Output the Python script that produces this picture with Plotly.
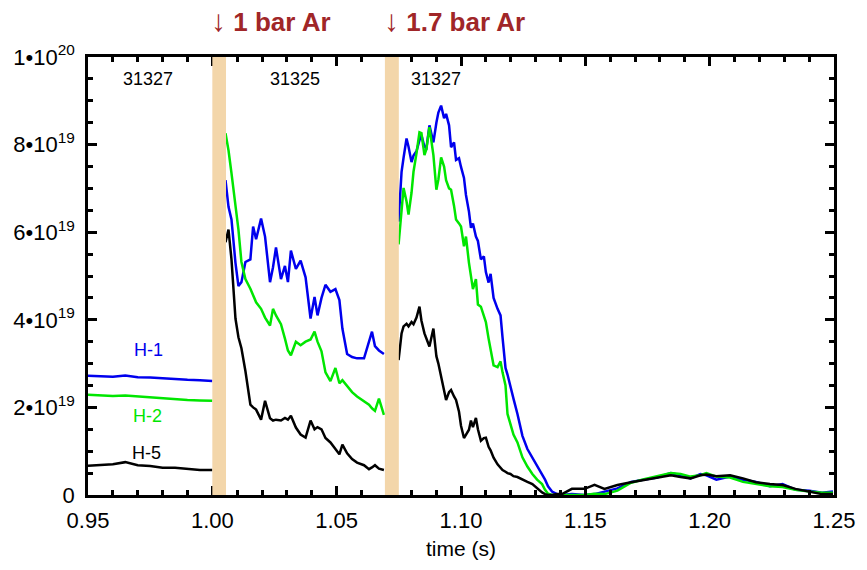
import plotly.graph_objects as go

# ---------------- data (densities in units of 1e19 m^-3) ----------------
t_seg1 = [0.950, 0.955, 0.960, 0.965, 0.970, 0.975, 0.980, 0.985, 0.990, 0.995, 1.000]
h1_seg1 = [2.72, 2.71, 2.70, 2.73, 2.69, 2.68, 2.66, 2.64, 2.63, 2.62, 2.60]
h2_seg1 = [2.29, 2.28, 2.26, 2.27, 2.25, 2.22, 2.20, 2.19, 2.17, 2.16, 2.15]
h5_seg1 = [0.67, 0.68, 0.70, 0.75, 0.68, 0.66, 0.62, 0.62, 0.60, 0.57, 0.57]

t_seg2 = [1.0053, 1.0065, 1.0077, 1.0093, 1.0105, 1.0117, 1.0133, 1.0153, 1.0164, 1.0176,
          1.0196, 1.0212, 1.0232, 1.0244, 1.0256, 1.0276, 1.0292, 1.0304, 1.0316, 1.0336,
          1.0355, 1.0375, 1.0395, 1.0411, 1.0423, 1.0439, 1.0455, 1.0475, 1.0495, 1.0511,
          1.0523, 1.0542, 1.0562, 1.0582, 1.0610, 1.0630, 1.0642, 1.0654, 1.0670, 1.0690]
h1_seg2 = [7.19, 6.58, 6.29, 5.30, 4.77, 4.86, 5.32, 5.38, 6.13, 5.84,
           6.31, 5.90, 4.86, 5.20, 5.65, 4.93, 5.23, 4.86, 5.58, 5.16,
           5.35, 4.97, 4.03, 4.52, 4.10, 4.50, 4.80, 4.64, 4.70, 4.45,
           3.80, 3.22, 3.15, 3.12, 3.12, 3.50, 3.73, 3.40, 3.30, 3.22]
h2_seg2 = [8.26, 7.87, 7.35, 6.67, 6.06, 5.32, 4.93, 4.71, 4.55, 4.40,
           4.25, 4.05, 3.87, 4.25, 4.10, 3.90, 3.57, 3.30, 3.19, 3.50,
           3.42, 3.50, 3.55, 3.73, 3.50, 3.28, 2.80, 2.60, 2.90, 2.55,
           2.62, 2.50, 2.35, 2.25, 2.15, 2.06, 1.98, 1.92, 2.20, 1.83]
h5_seg2 = [5.77, 6.06, 5.38, 4.03, 3.60, 3.35, 2.83, 2.06, 2.00, 1.95,
           1.72, 2.15, 1.75, 1.70, 1.72, 1.70, 1.76, 1.72, 1.81, 1.54,
           1.38, 1.31, 1.70, 1.50, 1.55, 1.50, 1.30, 1.20, 1.05, 0.93,
           1.15, 0.95, 0.82, 0.74, 0.68, 0.59, 0.63, 0.68, 0.60, 0.57]

t_seg3 = [1.0749, 1.0761, 1.0769, 1.0781, 1.0789, 1.0801, 1.0809, 1.0821, 1.0833, 1.0841,
          1.0853, 1.0861, 1.0873, 1.0889, 1.0901, 1.0909, 1.0920, 1.0932, 1.0940, 1.0952,
          1.0960, 1.0972, 1.0980, 1.0992, 1.1000, 1.1012, 1.1020, 1.1032, 1.1040, 1.1048,
          1.1060, 1.1068, 1.1080, 1.1092, 1.1100, 1.1111, 1.1119, 1.1131, 1.1147, 1.1159,
          1.1167, 1.1179, 1.1187, 1.1199, 1.1211, 1.1227, 1.1247, 1.1267, 1.1287, 1.1306,
          1.1326, 1.1338, 1.1350, 1.1366, 1.1386, 1.1406, 1.1446, 1.1497, 1.1537, 1.1577,
          1.1629, 1.1684, 1.1736, 1.1788, 1.1844, 1.1883, 1.1923, 1.1963, 1.1987, 1.2027,
          1.2082, 1.2134, 1.2186, 1.2242, 1.2293, 1.2345, 1.2401, 1.2452, 1.2496]
h1_seg3 = [6.24, 7.38, 7.70, 8.14, 7.95, 7.60, 7.75, 7.85, 8.10, 8.21,
           7.95, 7.92, 8.44, 8.05, 8.50, 8.73, 8.89, 8.60, 8.70, 8.44,
           7.94, 8.05, 7.65, 7.69, 7.49, 7.24, 6.85, 6.47, 6.10, 6.20,
           5.90, 5.80, 5.38, 5.45, 5.09, 4.85, 5.05, 4.50, 4.25, 4.10,
           3.60, 2.90, 2.75, 2.50, 2.20, 1.85, 1.35, 1.05, 0.86, 0.65,
           0.48, 0.35, 0.20, 0.08, 0.02, 0.00, 0.02, 0.00, 0.02, 0.08,
           0.15, 0.30, 0.35, 0.40, 0.50, 0.45, 0.38, 0.48, 0.45, 0.35,
           0.42, 0.35, 0.30, 0.20, 0.25, 0.12, 0.10, 0.05, 0.08]
h2_seg3 = [5.72, 6.50, 7.01, 6.70, 6.40, 6.90, 7.38, 7.80, 8.28, 8.26,
           7.76, 7.90, 8.40, 7.76, 6.97, 7.20, 7.71, 7.50, 7.19, 7.00,
           6.97, 6.60, 6.29, 6.20, 6.13, 5.68, 5.90, 5.30, 5.00, 4.70,
           4.93, 4.35, 4.30, 4.10, 3.95, 3.57, 3.30, 2.96, 2.92, 3.05,
           2.80, 2.50, 1.85, 1.60, 1.38, 1.20, 0.86, 0.65, 0.48, 0.35,
           0.25, 0.12, 0.03, 0.00, 0.00, 0.00, 0.00, 0.00, 0.03, 0.02,
           0.10, 0.28, 0.36, 0.42, 0.50, 0.48, 0.42, 0.45, 0.50, 0.42,
           0.40, 0.30, 0.25, 0.20, 0.18, 0.12, 0.08, 0.05, 0.05]
h5_seg3 = [3.08, 3.69, 3.85, 3.91, 3.85, 3.95, 3.90, 4.05, 4.30, 3.98,
           3.69, 3.55, 3.39, 3.80, 3.17, 3.00, 2.71, 2.45, 2.17, 2.35,
           2.40, 2.25, 2.17, 1.90, 1.58, 1.30, 1.38, 1.49, 1.70, 1.55,
           1.76, 1.50, 1.24, 1.30, 1.31, 1.10, 1.02, 0.85, 0.70, 0.62,
           0.57, 0.53, 0.50, 0.48, 0.43, 0.41, 0.35, 0.30, 0.25, 0.15,
           0.06, 0.02, 0.00, 0.00, 0.02, 0.02, 0.14, 0.14, 0.23, 0.14,
           0.23, 0.29, 0.34, 0.38, 0.45, 0.41, 0.38, 0.45, 0.47, 0.43,
           0.45, 0.38, 0.29, 0.25, 0.23, 0.14, 0.07, 0.02, 0.02]

puff_windows = [(1.0000, 1.0055), (1.0694, 1.0750)]
puff_labels = ["1 bar Ar", "1.7 bar Ar"]
shot_labels = ["31327", "31325", "31327"]
shot_label_t = [0.974, 1.0332, 1.090]
series_names = ["H-1", "H-2", "H-5"]
series_colors = ["#0000ee", "#00e600", "#000000"]
y_tick_vals = [0, 2e19, 4e19, 6e19, 8e19, 1e20]
y_tick_text = ["0", "2•10<sup>19</sup>", "4•10<sup>19</sup>", "6•10<sup>19</sup>",
               "8•10<sup>19</sup>", "1•10<sup>20</sup>"]
x_tick_vals = [0.95, 1.00, 1.05, 1.10, 1.15, 1.20, 1.25]
x_tick_text = ["0.95", "1.00", "1.05", "1.10", "1.15", "1.20", "1.25"]
SCALE = 1e19


def joined(parts):
    out = []
    for i, p in enumerate(parts):
        if i:
            out.append(None)
        out.extend(p)
    return out


t_all = joined([t_seg1, t_seg2, t_seg3])
series = [
    joined([h1_seg1, h1_seg2, h1_seg3]),
    joined([h2_seg1, h2_seg2, h2_seg3]),
    joined([h5_seg1, h5_seg2, h5_seg3]),
]

FONT = "Liberation Sans, Arial, Helvetica, sans-serif"
fig = go.Figure()

for name, col, vals in zip(series_names, series_colors, series):
    fig.add_trace(go.Scatter(
        x=t_all, y=[None if v is None else v * SCALE for v in vals],
        mode="lines", name=name, line=dict(color=col, width=2.5),
        connectgaps=False, showlegend=False))

for (a, b) in puff_windows:
    fig.add_shape(type="rect", xref="x", yref="paper", x0=a, x1=b, y0=0, y1=1,
                  fillcolor="#f3d6aa", line=dict(width=0), layer="above")

# puff annotations above the plot
for (a, b), lab in zip(puff_windows, puff_labels):
    fig.add_annotation(xref="x", yref="paper", x=a, y=1.0, xanchor="left", yanchor="bottom",
                       xshift=-3, yshift=18, showarrow=False,
                       text="<span style='font-size:30px'>↓</span> <b>" + lab + "</b>",
                       font=dict(family=FONT, size=26, color="#a02628"))

# shot numbers
for t, lab in zip(shot_label_t, shot_labels):
    fig.add_annotation(xref="x", yref="paper", x=t, y=0.95, xanchor="center", yanchor="middle",
                       showarrow=False, text=lab, font=dict(family=FONT, size=18, color="black"))

# series labels near their curves
label_pos = [(0.9745, 3.3), (0.9740, 1.8), (0.9735, 0.97)]
for (t, v), name, col in zip(label_pos, series_names, series_colors):
    fig.add_annotation(xref="x", yref="y", x=t, y=v * SCALE, showarrow=False,
                       text=name, font=dict(family=FONT, size=18, color=col))

axis_common = dict(showline=True, linecolor="black", linewidth=2.5, mirror="ticks",
                   ticks="inside", tickcolor="black", tickwidth=2.5, ticklen=9,
                   showgrid=False, zeroline=False,
                   tickfont=dict(family=FONT, size=22, color="black"))

fig.update_xaxes(range=[0.95, 1.25], tickvals=x_tick_vals, ticktext=x_tick_text,
                 ticklabelstandoff=4,
                 minor=dict(dtick=0.01, tick0=0.95, ticks="inside", ticklen=5,
                            tickwidth=2.5, tickcolor="black", showgrid=False),
                 title=dict(text="time (s)", font=dict(family=FONT, size=21, color="black"),
                            standoff=10),
                 **axis_common)
fig.update_yaxes(range=[0, 1e20], tickvals=y_tick_vals, ticktext=y_tick_text,
                 ticklabelstandoff=6,
                 minor=dict(dtick=5e18, tick0=0, ticks="inside", ticklen=5,
                            tickwidth=2.5, tickcolor="black", showgrid=False),
                 **axis_common)

fig.update_layout(width=867, height=570, margin=dict(l=88, r=25, t=57, b=72),
                  paper_bgcolor="white", plot_bgcolor="white",
                  font=dict(family=FONT, color="black"))

fig.write_html("out.html")
